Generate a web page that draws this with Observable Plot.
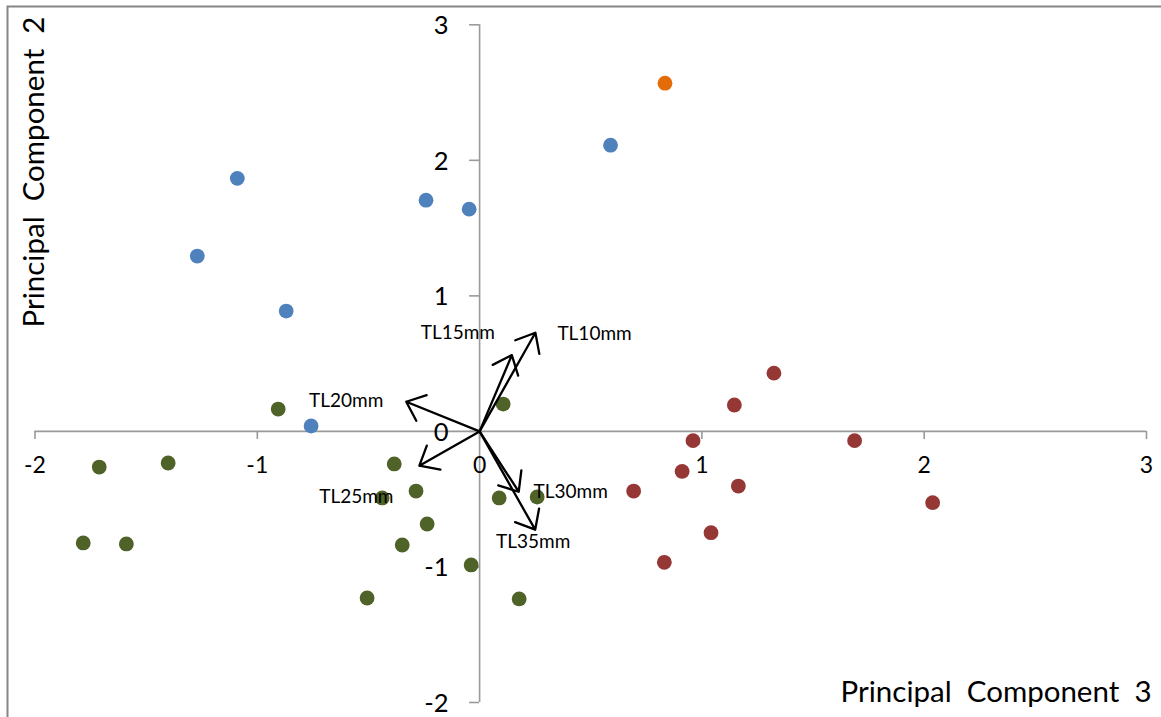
<!DOCTYPE html>
<html>
<head>
<meta charset="utf-8">
<script src="https://cdn.jsdelivr.net/npm/d3@7"></script>
<script src="https://cdn.jsdelivr.net/npm/@observablehq/plot@0.6"></script>
<style>
  html, body { margin: 0; padding: 0; background: #ffffff; }
  #chart svg { display: block; }
</style>
</head>
<body>
<div id="chart"></div>
<script>
// PCA scores (component 3 on x, component 2 on y) for four groups of samples
const blueX = [-1.090, -1.270, -0.870, -0.758, -0.241, -0.047, 0.589];
const blueY = [1.867, 1.294, 0.888, 0.040, 1.706, 1.640, 2.112];

const orangeX = [0.834];
const orangeY = [2.569];

const greenX = [-1.711, -1.401, -1.783, -1.589, -0.906, -0.384, -0.286, -0.438,
                -0.236, -0.348, -0.506, -0.038, 0.178, 0.106, 0.088, 0.259];
const greenY = [-0.263, -0.233, -0.823, -0.830, 0.165, -0.240, -0.440, -0.491,
                -0.683, -0.838, -1.229, -0.985, -1.236, 0.202, -0.491, -0.484];

const redX = [1.324, 1.146, 0.960, 1.687, 0.911, 0.693, 1.164, 2.038, 1.041, 0.831];
const redY = [0.430, 0.195, -0.068, -0.068, -0.295, -0.440, -0.403, -0.526, -0.747, -0.966];

// Variable loadings drawn as arrows from the origin
const loadingNames = ["TL10mm", "TL15mm", "TL20mm", "TL25mm", "TL30mm", "TL35mm"];
const loadingX = [0.251, 0.145, -0.330, -0.271, 0.176, 0.250];
const loadingY = [0.728, 0.563, 0.219, -0.253, -0.445, -0.725];

// Axis ticks
const xTicks = [-2, -1, 0, 1, 2, 3];
const yTicks = [-2, -1, 0, 1, 2, 3];

const groupColors = {blue: "#4F81BD", orange: "#E36C09", green: "#4F6228", red: "#953735"};

const toPoints = (xs, ys, group) => xs.map((x, i) => ({x, y: ys[i], group}));
const points = [
  ...toPoints(blueX, blueY, "blue"),
  ...toPoints(orangeX, orangeY, "orange"),
  ...toPoints(greenX, greenY, "green"),
  ...toPoints(redX, redY, "red")
];
const loadings = loadingNames.map((name, i) => ({name, x: loadingX[i], y: loadingY[i]}));

// Pixel offsets of each loading label from its arrow tip
const labelPlacement = {
  TL10mm: {dx: 22, dy: 1, anchor: "start"},
  TL15mm: {dx: -54, dy: -22, anchor: "middle"},
  TL20mm: {dx: -60, dy: -1, anchor: "middle"},
  TL25mm: {dx: -63, dy: 31, anchor: "middle"},
  TL30mm: {dx: 52, dy: 0, anchor: "middle"},
  TL35mm: {dx: -2, dy: 12, anchor: "middle"}
};

const W = 1161, H = 717;
const axisColor = "#9a9a9a";

const marks = [
  // outer chart border
  Plot.frame({stroke: "#868686", strokeWidth: 2, insetLeft: 7, insetTop: 6, insetRight: -10, insetBottom: -10}),
  // axes crossing at the origin
  Plot.ruleY([0], {x1: () => -2, x2: () => 3, stroke: axisColor, strokeWidth: 1.6}),
  Plot.ruleX([0], {y1: () => -2, y2: () => 3, stroke: axisColor, strokeWidth: 1.6}),
  Plot.ruleX(xTicks, {x: d => d, y1: () => 0, y2: () => 0, insetBottom: -8, stroke: axisColor, strokeWidth: 1.6}),
  Plot.ruleY(yTicks, {y: d => d, x1: () => 0, x2: () => 0, insetLeft: -10, stroke: axisColor, strokeWidth: 1.6}),
  Plot.text(xTicks, {x: d => d, y: () => 0, text: d => String(d), dy: 34.5, fontSize: 23, fill: "#000"}),
  Plot.text(yTicks, {x: () => 0, y: d => d, text: d => String(d), dx: -31, dy: 1, textAnchor: "end", fontSize: 25.5, fill: "#000"}),
  // sample scores
  Plot.dot(points, {x: "x", y: "y", r: 7.4, fill: d => groupColors[d.group], stroke: "none"}),
  // loading arrows
  Plot.arrow(loadings, {x1: () => 0, y1: () => 0, x2: "x", y2: "y", stroke: "#000", strokeWidth: 2.3, headLength: 14, headAngle: 80, bend: 0}),
  ...loadings.map(d => Plot.text([d], {
    x: "x", y: "y", text: "name",
    dx: labelPlacement[d.name].dx, dy: labelPlacement[d.name].dy,
    textAnchor: labelPlacement[d.name].anchor, fontSize: 19, fill: "#000"
  })),
  // axis titles
  Plot.text(["Principal\u00a0 Component\u00a0 3"], {frameAnchor: "bottom-right", dx: -10, dy: -16, textAnchor: "end", fontSize: 29.5, fill: "#000"}),
  Plot.text(["Principal\u00a0 Component\u00a0 2"], {frameAnchor: "left", dx: 34, dy: -187, rotate: -90, textAnchor: "middle", fontSize: 29.5, fill: "#000"})
];

const chart = Plot.plot({
  width: W,
  height: H,
  margin: 0,
  style: {fontFamily: "Lato, 'Open Sans', sans-serif", background: "#ffffff", overflow: "hidden"},
  x: {domain: [-2, 3], range: [34.5, 1146], axis: null},
  y: {domain: [-2, 3], range: [702, 24.3], axis: null},
  marks
});
document.getElementById("chart").appendChild(chart);
</script>
</body>
</html>
